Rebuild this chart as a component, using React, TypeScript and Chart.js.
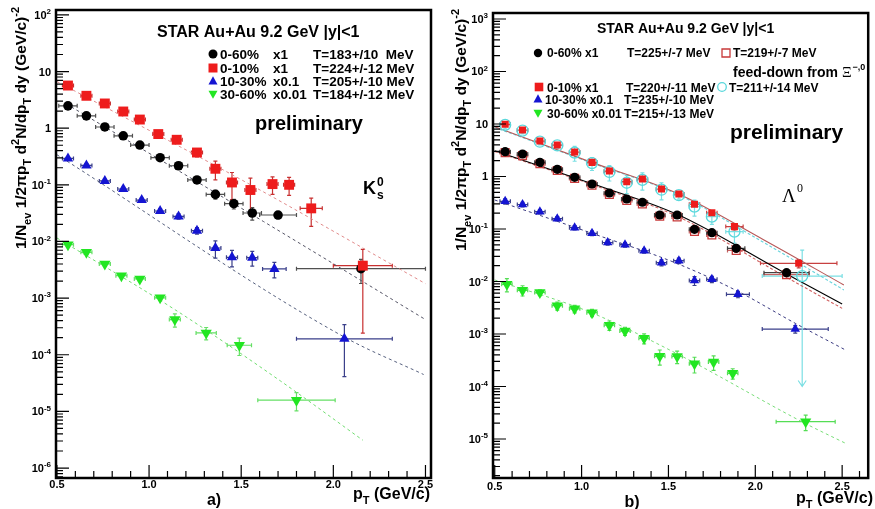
import React, { useEffect, useRef } from "react";
import { Chart, registerables } from "chart.js";
Chart.register(...registerables);

// ================= Panel a) K0s =================
const kPt060 = [0.56, 0.66, 0.76, 0.86, 0.95, 1.06, 1.16, 1.26, 1.36, 1.46, 1.56, 1.70, 2.15];
const kY060 = [2.48, 1.65, 1.05, 0.734, 0.504, 0.301, 0.217, 0.122, 0.0678, 0.0464, 0.0318, 0.0293, 0.00331];
const kXe060 = [0.05, 0.05, 0.05, 0.05, 0.05, 0.05, 0.05, 0.05, 0.05, 0.05, 0.05, 0.1, 0.35];
const kYe060 = [0.15, 0.1, 0.06, 0.04, 0.03, 0.02, 0.015, 0.01, 0.012, 0.009, 0.008, 0.004, 0.0015];

const kPt010 = [0.56, 0.66, 0.76, 0.86, 0.95, 1.05, 1.15, 1.26, 1.36, 1.45, 1.55, 1.67, 1.76, 1.88, 2.16];
const kY010 = [5.66, 3.73, 2.73, 1.97, 1.42, 0.787, 0.624, 0.372, 0.192, 0.110, 0.081, 0.103, 0.100, 0.0384, 0.00374];
const kXe010 = [0.03, 0.03, 0.03, 0.03, 0.03, 0.03, 0.03, 0.03, 0.03, 0.03, 0.03, 0.03, 0.03, 0.06, 0.16];
const kYe010 = [0.3, 0.2, 0.15, 0.1, 0.1, 0.05, 0.05, 0.06, 0.07, 0.055, 0.05, 0.035, 0.035, 0.02, 0.0035];

const kPt1030 = [0.56, 0.66, 0.76, 0.86, 0.96, 1.06, 1.16, 1.26, 1.36, 1.45, 1.56, 1.68, 2.06];
const kY1030 = [0.292, 0.220, 0.117, 0.0843, 0.0539, 0.0345, 0.0277, 0.0155, 0.00767, 0.00525, 0.00518, 0.00327, 0.000191];
const kXe1030 = [0.03, 0.03, 0.03, 0.03, 0.03, 0.03, 0.03, 0.03, 0.03, 0.03, 0.03, 0.064, 0.26];
const kYe1030 = [0.02, 0.015, 0.008, 0.006, 0.004, 0.003, 0.003, 0.002, 0.0026, 0.0017, 0.0015, 0.001, 0.00015];

const kPt3060 = [0.56, 0.66, 0.76, 0.85, 0.95, 1.06, 1.14, 1.31, 1.49, 1.80];
const kY3060 = [0.00879, 0.00643, 0.00401, 0.00249, 0.00218, 0.00101, 0.000418, 0.000243, 0.000147, 0.0000158];
const kXe3060 = [0.03, 0.03, 0.03, 0.03, 0.03, 0.03, 0.03, 0.055, 0.066, 0.21];
const kYe3060 = [0.0006, 0.0005, 0.0003, 0.0002, 0.0002, 0.0001, 0.00011, 0.00006, 0.00005, 0.0000056];

// fit lines
const kFit010Pt = [0.5, 1.55, 2.5];
const kFit010Y = [6.67, 0.1005, 0.0018];
const kFit060Pt = [0.55, 1.62, 2.5];
const kFit060Y = [2.69, 0.0226, 0.000418];
const kFit1030Pt = [0.5, 2.06, 2.49];
const kFit1030Y = [0.34, 0.000205, 0.0000448];
const kFit3060Pt = [0.5, 1.14, 1.715, 2.16];
const kFit3060Y = [0.01153, 0.000627, 0.0000341, 0.0000031];

const kLegendLabels = ["0-60%", "0-10%", "10-30%", "30-60%"];
const kLegendScale = ["x1", "x1", "x0.1", "x0.01"];
const kLegendT = ["T=183+/10  MeV", "T=224+/-12 MeV", "T=205+/-10 MeV", "T=184+/-12 MeV"];
const kDecades = [2, 1, 0, -1, -2, -3, -4, -5, -6];

// ================= Panel b) Lambda =================
const lPt060 = [0.56, 0.66, 0.76, 0.86, 0.96, 1.06, 1.16, 1.26, 1.35, 1.45, 1.55, 1.65, 1.75, 1.89, 2.18];
const lY060 = [2.97, 2.68, 1.86, 1.37, 0.966, 0.720, 0.485, 0.373, 0.323, 0.185, 0.185, 0.0986, 0.0851, 0.0429, 0.0147];
const lXe060 = [0.03, 0.03, 0.03, 0.03, 0.03, 0.03, 0.03, 0.03, 0.03, 0.03, 0.03, 0.03, 0.03, 0.05, 0.13];
const lYe060 = [0.12, 0.1, 0.07, 0.05, 0.04, 0.03, 0.02, 0.015, 0.013, 0.008, 0.008, 0.005, 0.005, 0.003, 0.002];

const lY060fd = [2.85, 2.5, 1.75, 1.3, 0.92, 0.68, 0.455, 0.35, 0.30, 0.175, 0.17, 0.09, 0.077, 0.039, 0.0135];

const lPt010 = [0.56, 0.66, 0.76, 0.86, 0.96, 1.06, 1.16, 1.26, 1.35, 1.46, 1.56, 1.65, 1.75, 1.88, 2.25];
const lY010 = [9.87, 7.69, 4.74, 3.98, 2.93, 1.86, 1.27, 0.796, 0.896, 0.578, 0.464, 0.295, 0.204, 0.111, 0.0222];
const lXe010 = [0.03, 0.03, 0.03, 0.03, 0.03, 0.03, 0.03, 0.03, 0.03, 0.03, 0.03, 0.03, 0.03, 0.05, 0.22];
const lYe010 = [0.4, 0.3, 0.2, 0.15, 0.12, 0.08, 0.06, 0.05, 0.05, 0.03, 0.03, 0.02, 0.015, 0.015, 0.004];

const lPt010fd = [0.56, 0.66, 0.76, 0.86, 0.96, 1.06, 1.16, 1.26, 1.35, 1.46, 1.56, 1.65, 1.75, 1.88, 2.27];
const lY010fd = [9.6, 7.5, 4.6, 3.9, 2.85, 1.8, 1.22, 0.76, 0.86, 0.56, 0.44, 0.266, 0.172, 0.0889, 0.0127];
const lXe010fd = [0.03, 0.03, 0.03, 0.03, 0.03, 0.03, 0.03, 0.03, 0.03, 0.03, 0.03, 0.03, 0.03, 0.05, 0.23];
const lYe010fd = [1.5, 1.0, 0.6, 0.5, 0.9, 0.5, 0.4, 0.29, 0.31, 0.2, 0.07, 0.09, 0.05, 0.035, 0.027];
const lYeLo010fd = [1.5, 1.0, 0.6, 0.5, 0.9, 0.5, 0.4, 0.29, 0.31, 0.2, 0.07, 0.09, 0.05, 0.035, 0.0126];

const lPt1030 = [0.56, 0.66, 0.76, 0.86, 0.96, 1.06, 1.15, 1.25, 1.36, 1.46, 1.56, 1.65, 1.75, 1.90, 2.23];
const lY1030 = [0.337, 0.293, 0.214, 0.157, 0.106, 0.0828, 0.0553, 0.0502, 0.0385, 0.0228, 0.0249, 0.0104, 0.0110, 0.00570, 0.00124];
const lXe1030 = [0.03, 0.03, 0.03, 0.03, 0.03, 0.03, 0.03, 0.03, 0.03, 0.03, 0.03, 0.03, 0.03, 0.066, 0.19];
const lYe1030 = [0.04, 0.03, 0.02, 0.015, 0.01, 0.008, 0.006, 0.005, 0.004, 0.003, 0.003, 0.002, 0.0015, 0.0008, 0.0002];

const lPt3060 = [0.57, 0.66, 0.76, 0.86, 0.96, 1.06, 1.16, 1.25, 1.36, 1.45, 1.55, 1.65, 1.76, 1.87, 2.29];
const lY3060 = [0.00885, 0.00680, 0.00617, 0.00346, 0.00302, 0.00255, 0.00147, 0.00114, 0.000828, 0.000376, 0.000373, 0.000271, 0.000293, 0.000178, 0.0000214];
const lXe3060 = [0.03, 0.03, 0.03, 0.03, 0.03, 0.03, 0.03, 0.03, 0.03, 0.03, 0.03, 0.03, 0.03, 0.03, 0.17];
const lYe3060 = [0.0025, 0.0015, 0.0008, 0.0006, 0.0005, 0.0004, 0.0003, 0.0002, 0.00018, 0.00012, 0.0001, 0.00009, 0.00009, 0.00004, 0.000007];

const lFit010Pt = [0.5, 1.05, 1.55, 2.05, 2.51];
const lFit010Y = [8.89, 1.9, 0.48, 0.062, 0.0086];
const lFit010fdPt = [0.5, 1.05, 1.55, 2.05, 2.51];
const lFit010fdY = [8.6, 1.85, 0.46, 0.055, 0.0069];
const lFit060Pt = [0.5, 1.05, 1.55, 2.18, 2.5];
const lFit060Y = [3.10, 0.75, 0.19, 0.0139, 0.00373];
const lFit060fdPt = [0.5, 1.05, 1.55, 2.18, 2.5];
const lFit060fdY = [3.0, 0.72, 0.175, 0.012, 0.00308];
const lFit1030Pt = [0.5, 1.05, 1.55, 1.9, 2.23, 2.52];
const lFit1030Y = [0.357, 0.085, 0.022, 0.0065, 0.0016, 0.000495];
const lFit3060Pt = [0.5, 1.05, 1.55, 2.285, 2.52];
const lFit3060Y = [0.0107, 0.0026, 0.00042, 0.00002, 0.00000828];

const lLegendLabels = ["0-60% x1", "0-10% x1", "10-30% x0.1", "30-60% x0.01"];
const lLegendT = ["T=225+/-7 MeV", "T=220+/-11 MeV", "T=235+/-10 MeV", "T=215+/-13 MeV"];
const lLegendFdT = ["T=219+/-7 MeV", "T=211+/-14 MeV"];
const lDecades = [3, 2, 1, 0, -1, -2, -3, -4, -5];

const xTickLabels = ["0.5", "1.0", "1.5", "2.0", "2.5"];

// ================= drawing helpers =================
const SANS = '"Liberation Sans", Arial, Helvetica, sans-serif';
const SERIF = '"Liberation Serif", "Times New Roman", serif';
type Seg = [string, number]; // 0 normal, 1 sub, 2 sup

function drawRich(ctx: CanvasRenderingContext2D, segs: Seg[], x: number, y: number, size: number, align: string, family = SANS, weight = "bold", subScale = 0.68) {
  const f = (k: number) => `${weight} ${k === 0 ? size : Math.round(size * subScale)}px ${family}`;
  let w = 0;
  for (const [t, k] of segs) { ctx.font = f(k); w += ctx.measureText(t).width; }
  let cx = align === "left" ? x : align === "center" ? x - w / 2 : x - w;
  ctx.textAlign = "left";
  ctx.textBaseline = "alphabetic";
  for (const [t, k] of segs) {
    ctx.font = f(k);
    const dy = k === 1 ? size * 0.3 : k === 2 ? -size * 0.42 : 0;
    ctx.fillText(t, cx, y + dy);
    cx += ctx.measureText(t).width;
  }
}

function drawMarker(ctx: CanvasRenderingContext2D, shape: string, x: number, y: number, r: number, color: string) {
  ctx.save();
  ctx.fillStyle = color;
  ctx.strokeStyle = color;
  ctx.lineWidth = 1.3;
  ctx.beginPath();
  if (shape === "circle" || shape === "openCircle") {
    ctx.arc(x, y, r, 0, Math.PI * 2);
  } else if (shape === "rect" || shape === "openRect") {
    ctx.rect(x - r, y - r, 2 * r, 2 * r);
  } else if (shape === "triangle") {
    ctx.moveTo(x, y - r * 1.05); ctx.lineTo(x + r, y + r * 0.75); ctx.lineTo(x - r, y + r * 0.75); ctx.closePath();
  } else if (shape === "triangleDown") {
    ctx.moveTo(x, y + r * 1.05); ctx.lineTo(x + r, y - r * 0.75); ctx.lineTo(x - r, y - r * 0.75); ctx.closePath();
  }
  if (shape.startsWith("open")) ctx.stroke(); else ctx.fill();
  ctx.restore();
}

// ================= panel definitions =================
type Series = { pt: number[]; y: number[]; xe: number[]; ye: number[]; yeLo?: number[]; shape: string; color: string; err: string; r: number };
type Fit = { pt: number[]; y: number[]; color: string; width: number; dash: number[] };
type Panel = {
  w: number; xMin: number; xMax: number; yMin: number; yMax: number; yAxisW: number; padTop: number; padRight: number;
  decades: number[]; series: Series[]; fits: Fit[]; xLabelBase: number; yLabelRight: number;
  decor: (ctx: CanvasRenderingContext2D) => void;
};

const yTitle: Seg[] = [["1/N", 0], ["ev", 1], [" 1/2\u03C0p", 0], ["T", 1], [" d", 0], ["2", 2], ["N/dp", 0], ["T", 1], [" dy (GeV/c)", 0], ["-2", 2]];

const panelA: Panel = {
  w: 440, xMin: 0.495, xMax: 2.53, yMin: 6.67e-7, yMax: 122, yAxisW: 56, padTop: 10, padRight: 9,
  decades: kDecades, xLabelBase: 488, yLabelRight: 51,
  series: [
    { pt: kPt3060, y: kY3060, xe: kXe3060, ye: kYe3060, shape: "triangleDown", color: "#22e622", err: "#66e066", r: 6.5 },
    { pt: kPt1030, y: kY1030, xe: kXe1030, ye: kYe1030, shape: "triangle", color: "#1414d2", err: "#3a3f8a", r: 6 },
    { pt: kPt060, y: kY060, xe: kXe060, ye: kYe060, shape: "circle", color: "#000000", err: "#505050", r: 4.8 },
    { pt: kPt010, y: kY010, xe: kXe010, ye: kYe010, shape: "rect", color: "#ee1c1c", err: "#c83030", r: 7 },
  ],
  fits: [
    { pt: kFit010Pt, y: kFit010Y, color: "#e08a8a", width: 1, dash: [3, 3] },
    { pt: kFit060Pt, y: kFit060Y, color: "#555566", width: 1, dash: [3, 3] },
    { pt: kFit1030Pt, y: kFit1030Y, color: "#56607e", width: 1, dash: [3, 3] },
    { pt: kFit3060Pt, y: kFit3060Y, color: "#70dd70", width: 1, dash: [3, 3] },
  ],
  decor: (ctx) => {
    ctx.fillStyle = "#000";
    drawRich(ctx, [["STAR Au+Au 9.2 GeV |y|<1", 0]], 157, 37, 16, "left");
    const shapes = ["circle", "rect", "triangle", "triangleDown"];
    const cols = ["#000000", "#ee1c1c", "#1414d2", "#22e622"];
    const rowsY = [54, 68, 81, 94];
    for (let i = 0; i < 4; i++) {
      drawMarker(ctx, shapes[i], 213, rowsY[i], 4.5, cols[i]);
      ctx.fillStyle = "#000";
      drawRich(ctx, [[kLegendLabels[i], 0]], 220, rowsY[i] + 5, 13.5, "left");
      drawRich(ctx, [[kLegendScale[i], 0]], 273, rowsY[i] + 5, 13.5, "left");
      drawRich(ctx, [[kLegendT[i], 0]], 313, rowsY[i] + 5, 13.5, "left");
    }
    drawRich(ctx, [["preliminary", 0]], 255, 130, 20, "left");
    drawRich(ctx, [["K", 0]], 363, 194, 18, "left");
    drawRich(ctx, [["0", 0]], 377, 186, 12, "left");
    drawRich(ctx, [["s", 0]], 377, 199, 12, "left");
    drawRich(ctx, [["a)", 0]], 214, 505, 16, "center");
    drawRich(ctx, [["p", 0], ["T", 1], [" (GeV/c)", 0]], 430, 499, 16, "right");
    ctx.save();
    ctx.translate(26, 128);
    ctx.rotate(-Math.PI / 2);
    drawRich(ctx, yTitle, 0, 0, 15.5, "center");
    ctx.restore();
  },
};

const panelB: Panel = {
  w: 435, xMin: 0.49, xMax: 2.65, yMin: 1.81e-6, yMax: 1300, yAxisW: 53, padTop: 13, padRight: 2,
  decades: lDecades, xLabelBase: 490, yLabelRight: 48,
  series: [
    { pt: lPt3060, y: lY3060, xe: lXe3060, ye: lYe3060, shape: "triangleDown", color: "#22e622", err: "#55dd55", r: 6.5 },
    { pt: lPt1030, y: lY1030, xe: lXe1030, ye: lYe1030, shape: "triangle", color: "#1414d2", err: "#3a3f8a", r: 5.5 },
    { pt: lPt060, y: lY060fd, xe: lXe060, ye: lYe060, shape: "openRect", color: "#c83a3a", err: "#c86060", r: 5.5 },
    { pt: lPt060, y: lY060, xe: lXe060, ye: lYe060, shape: "circle", color: "#000000", err: "#404040", r: 4.6 },
    { pt: lPt010fd, y: lY010fd, xe: lXe010fd, ye: lYe010fd, yeLo: lYeLo010fd, shape: "openCircle", color: "#5ad8dc", err: "#7adfe3", r: 5.5 },
    { pt: lPt010, y: lY010, xe: lXe010, ye: lYe010, shape: "rect", color: "#ee1c1c", err: "#c84040", r: 5 },
  ],
  fits: [
    { pt: lFit010Pt, y: lFit010Y, color: "#b85858", width: 1.1, dash: [] },
    { pt: lFit010fdPt, y: lFit010fdY, color: "#66d4dc", width: 1.1, dash: [3, 2] },
    { pt: lFit060Pt, y: lFit060Y, color: "#000000", width: 1.1, dash: [] },
    { pt: lFit060fdPt, y: lFit060fdY, color: "#d06060", width: 1.1, dash: [3, 2] },
    { pt: lFit1030Pt, y: lFit1030Y, color: "#3a3a80", width: 1, dash: [3, 3] },
    { pt: lFit3060Pt, y: lFit3060Y, color: "#77dd77", width: 1, dash: [3, 3] },
  ],
  decor: (ctx) => {
    ctx.fillStyle = "#000";
    drawRich(ctx, [["STAR Au+Au 9.2 GeV |y|<1", 0]], 157, 33, 14, "left");
    // row 1
    drawMarker(ctx, "circle", 98, 53, 4.2, "#000");
    ctx.fillStyle = "#000";
    drawRich(ctx, [[lLegendLabels[0], 0]], 107, 57, 12, "left");
    drawRich(ctx, [[lLegendT[0], 0]], 187, 57, 12, "left");
    drawMarker(ctx, "openRect", 286, 53, 4, "#c83a3a");
    ctx.fillStyle = "#000";
    drawRich(ctx, [[lLegendFdT[0], 0]], 293, 57, 12, "left");
    // feed-down line
    drawRich(ctx, [["feed-down from ", 0]], 293, 77, 14, "left");
    ctx.font = `bold 14px ${SANS}`;
    const fdw = ctx.measureText("feed-down from ").width;
    drawRich(ctx, [["\u039E", 0]], 293 + fdw, 77, 15, "left", SERIF, "normal");
    ctx.font = `normal 15px ${SERIF}`;
    const xiw = ctx.measureText("\u039E").width;
    drawRich(ctx, [["\u2212,0", 0]], 293 + fdw + xiw + 1, 70, 9, "left");
    // row 3
    drawMarker(ctx, "rect", 99, 87, 4.3, "#ee1c1c");
    ctx.fillStyle = "#000";
    drawRich(ctx, [[lLegendLabels[1], 0]], 107, 92, 12, "left");
    drawRich(ctx, [[lLegendT[1], 0]], 186, 92, 12, "left");
    drawMarker(ctx, "openCircle", 282, 87, 4.3, "#5ad8dc");
    ctx.fillStyle = "#000";
    drawRich(ctx, [[lLegendFdT[1], 0]], 289, 92, 12, "left");
    // row 4
    drawMarker(ctx, "triangle", 98, 99, 4.5, "#1414d2");
    ctx.fillStyle = "#000";
    drawRich(ctx, [[lLegendLabels[2], 0]], 105, 104, 12, "left");
    drawRich(ctx, [[lLegendT[2], 0]], 184, 104, 12, "left");
    // row 5
    drawMarker(ctx, "triangleDown", 98, 113, 4.5, "#22e622");
    ctx.fillStyle = "#000";
    drawRich(ctx, [[lLegendLabels[3], 0]], 107, 118, 12, "left");
    drawRich(ctx, [[lLegendT[3], 0]], 184, 118, 12, "left");

    drawRich(ctx, [["preliminary", 0]], 290, 139, 21, "left");
    drawRich(ctx, [["\u039B", 0]], 342, 202, 19, "left", SERIF, "normal");
    drawRich(ctx, [["0", 0]], 357, 192, 12, "left", SERIF, "normal");
    drawRich(ctx, [["b)", 0]], 192, 507, 16, "center");
    drawRich(ctx, [["p", 0], ["T", 1], [" (GeV/c)", 0]], 433, 503, 16, "right");
    ctx.save();
    ctx.translate(26, 130);
    ctx.rotate(-Math.PI / 2);
    drawRich(ctx, yTitle, 0, 0, 15.5, "center");
    ctx.restore();
  },
};

// ================= plugins =================
const errorBarPlugin = {
  id: "errbars",
  beforeDatasetsDraw(chart: any) {
    const { ctx, chartArea: a, scales } = chart;
    const xs = scales.x, ys = scales.y;
    ctx.save();
    ctx.beginPath();
    ctx.rect(a.left, a.top, a.right - a.left, a.bottom - a.top);
    ctx.clip();
    chart.data.datasets.forEach((ds: any) => {
      if (!ds.errX) return;
      ctx.strokeStyle = ds.errColor;
      ctx.lineWidth = 1.2;
      ds.data.forEach((p: any, i: number) => {
        const px = xs.getPixelForValue(p.x), py = ys.getPixelForValue(p.y);
        const xl = xs.getPixelForValue(p.x - ds.errX[i]), xr = xs.getPixelForValue(p.x + ds.errX[i]);
        const hi = p.y + ds.errY[i];
        const loE = ds.errYLo ? ds.errYLo[i] : ds.errY[i];
        const lo = p.y - loE;
        const yt = ys.getPixelForValue(hi);
        const yb = lo > 0 ? ys.getPixelForValue(lo) : a.bottom;
        ctx.beginPath();
        ctx.moveTo(xl, py); ctx.lineTo(xr, py);
        ctx.moveTo(xl, py - 2); ctx.lineTo(xl, py + 2);
        ctx.moveTo(xr, py - 2); ctx.lineTo(xr, py + 2);
        ctx.moveTo(px, yt); ctx.lineTo(px, yb);
        ctx.moveTo(px - 2, yt); ctx.lineTo(px + 2, yt);
        if (lo / p.y < 0.02) {
          ctx.moveTo(px - 4, yb - 6); ctx.lineTo(px, yb); ctx.lineTo(px + 4, yb - 6);
        } else {
          ctx.moveTo(px - 2, yb); ctx.lineTo(px + 2, yb);
        }
        ctx.stroke();
      });
    });
    ctx.restore();
  },
};

function makeDecorPlugin(p: Panel) {
  return {
    id: "decor",
    afterDraw(chart: any) {
      const { ctx, chartArea: a, scales } = chart;
      const xs = scales.x, ys = scales.y;
      ctx.save();
      ctx.strokeStyle = "#000";
      // x ticks
      ctx.lineWidth = 1.2;
      ctx.beginPath();
      for (let k = Math.ceil(p.xMin * 10); k <= Math.floor(p.xMax * 10); k++) {
        const px = xs.getPixelForValue(k / 10);
        const len = k % 5 === 0 ? 13 : 7;
        ctx.moveTo(px, a.bottom); ctx.lineTo(px, a.bottom - len);
      }
      // y ticks
      const dMin = Math.floor(Math.log10(p.yMin)), dMax = Math.ceil(Math.log10(p.yMax));
      for (let d = dMin; d <= dMax; d++) {
        for (let m = 1; m <= 9; m++) {
          const v = m * Math.pow(10, d);
          if (v < p.yMin || v > p.yMax) continue;
          const py = ys.getPixelForValue(v);
          const len = m === 1 ? 13 : 7;
          ctx.moveTo(a.left, py); ctx.lineTo(a.left + len, py);
        }
      }
      ctx.stroke();
      // frame
      ctx.lineWidth = 2.5;
      ctx.strokeRect(a.left, a.top, a.right - a.left, a.bottom - a.top);
      // x tick labels
      ctx.fillStyle = "#000";
      xTickLabels.forEach((t) => {
        const px = xs.getPixelForValue(parseFloat(t));
        drawRich(ctx, [[t, 0]], px, p.xLabelBase, 11, "center");
      });
      // y tick labels
      p.decades.forEach((e) => {
        const py = ys.getPixelForValue(Math.pow(10, e));
        const segs: Seg[] = e === 0 ? [["1", 0]] : e === 1 ? [["10", 0]] : [["10", 0], [String(e), 2]];
        drawRich(ctx, segs, p.yLabelRight, py + 4, 11, "right", SANS, "bold", 0.72);
      });
      p.decor(ctx);
      ctx.restore();
    },
  };
}

function buildConfig(p: Panel): any {
  const datasets: any[] = [];
  p.fits.forEach((f) => {
    datasets.push({
      type: "line",
      data: f.pt.map((v, i) => ({ x: v, y: f.y[i] })),
      borderColor: f.color,
      borderWidth: f.width,
      borderDash: f.dash,
      pointRadius: 0,
      fill: false,
      cubicInterpolationMode: "monotone",
      order: 20,
    });
  });
  p.series.forEach((s, idx) => {
    const open = s.shape.startsWith("open");
    const style = s.shape === "openRect" ? "rect" : s.shape === "openCircle" ? "circle" : s.shape === "triangleDown" ? "triangle" : s.shape;
    datasets.push({
      type: "scatter",
      data: s.pt.map((v, i) => ({ x: v, y: s.y[i] })),
      pointStyle: style,
      pointRotation: s.shape === "triangleDown" ? 180 : 0,
      pointRadius: s.r,
      pointHoverRadius: s.r,
      backgroundColor: open ? "rgba(0,0,0,0)" : s.color,
      borderColor: s.color,
      borderWidth: open ? 1.3 : 0,
      showLine: false,
      errX: s.xe,
      errY: s.ye,
      errYLo: s.yeLo,
      errColor: s.err,
      order: 10 - idx,
    });
  });
  return {
    type: "scatter",
    data: { datasets },
    options: {
      animation: false,
      responsive: false,
      devicePixelRatio: 1,
      events: [],
      layout: { padding: { left: 0, top: p.padTop, right: p.padRight, bottom: 0 } },
      plugins: { legend: { display: false }, tooltip: { enabled: false }, title: { display: false } },
      scales: {
        x: {
          type: "linear", min: p.xMin, max: p.xMax,
          grid: { display: false }, border: { display: false }, ticks: { display: false },
          afterFit: (s: any) => { s.height = 31; },
        },
        y: {
          type: "logarithmic", min: p.yMin, max: p.yMax,
          grid: { display: false }, border: { display: false }, ticks: { display: false },
          afterFit: (s: any) => { s.width = p.yAxisW; },
        },
      },
    },
    plugins: [errorBarPlugin, makeDecorPlugin(p)],
  };
}

export default function App() {
  const leftRef = useRef<HTMLCanvasElement>(null);
  const rightRef = useRef<HTMLCanvasElement>(null);
  useEffect(() => {
    const c1 = new Chart(leftRef.current as HTMLCanvasElement, buildConfig(panelA));
    const c2 = new Chart(rightRef.current as HTMLCanvasElement, buildConfig(panelB));
    return () => { c1.destroy(); c2.destroy(); };
  }, []);
  return (
    <div style={{ position: "absolute", left: 0, top: 0, width: 875, height: 509, background: "#fff", overflow: "hidden" }}>
      <canvas ref={leftRef} width={440} height={509} style={{ position: "absolute", left: 0, top: 0, width: 440, height: 509 }} />
      <canvas ref={rightRef} width={435} height={509} style={{ position: "absolute", left: 440, top: 0, width: 435, height: 509 }} />
    </div>
  );
}
